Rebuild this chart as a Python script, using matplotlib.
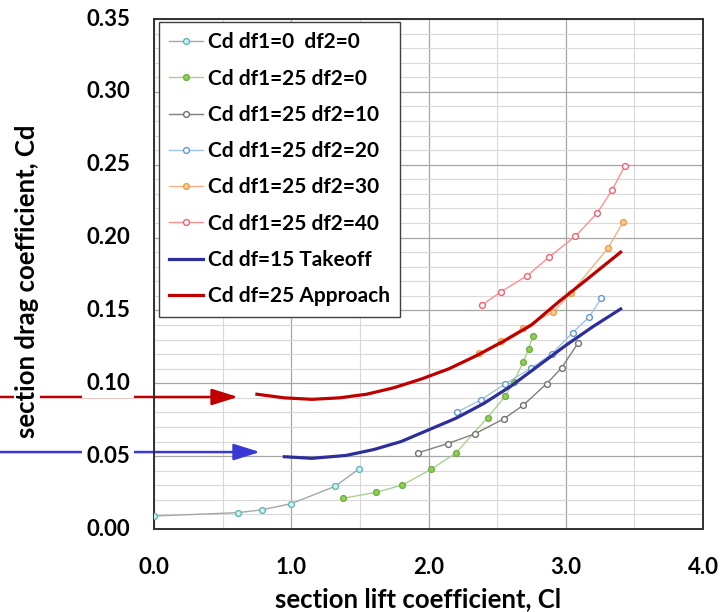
import matplotlib
matplotlib.use("Agg")
import matplotlib.pyplot as plt
from matplotlib.ticker import MultipleLocator
from matplotlib.transforms import offset_copy

plt.rcParams['font.family'] = ['Lato', 'DejaVu Sans']
plt.rcParams['font.weight'] = 'bold'

# ---- data ----
cl_00 = [0.00, 0.61, 0.79, 1.00, 1.32, 1.49]
cd_00 = [0.0089, 0.0112, 0.0132, 0.0174, 0.0293, 0.0410]

cl_25_0 = [1.38, 1.62, 1.81, 2.02, 2.20, 2.43, 2.56, 2.62, 2.69, 2.73, 2.76]
cd_25_0 = [0.0211, 0.0252, 0.0302, 0.0410, 0.0522, 0.0764, 0.0913, 0.1010, 0.1146, 0.1235, 0.1327]

cl_25_10 = [1.92, 2.14, 2.34, 2.55, 2.69, 2.86, 2.97, 3.09]
cd_25_10 = [0.0522, 0.0586, 0.0654, 0.0757, 0.0849, 0.0997, 0.1105, 0.1277]

cl_25_20 = [2.21, 2.38, 2.56, 2.75, 2.90, 3.05, 3.17, 3.26]
cd_25_20 = [0.0803, 0.0885, 0.0997, 0.1105, 0.1203, 0.1347, 0.1455, 0.1585]

cl_25_30 = [2.37, 2.53, 2.69, 2.91, 3.04, 3.31, 3.42]
cd_25_30 = [0.1206, 0.1288, 0.1380, 0.1490, 0.1622, 0.1930, 0.2110]

cl_25_40 = [2.39, 2.53, 2.72, 2.88, 3.07, 3.23, 3.34, 3.43]
cd_25_40 = [0.1537, 0.1629, 0.1739, 0.1867, 0.2009, 0.2169, 0.2329, 0.2491]

cl_takeoff = [0.95, 1.15, 1.40, 1.60, 1.80, 2.00, 2.20, 2.40, 2.60, 2.80, 3.00, 3.20, 3.40]
cd_takeoff = [0.0496, 0.0485, 0.0505, 0.0545, 0.0600, 0.0680, 0.0760, 0.0860, 0.0980, 0.1120, 0.1260, 0.1390, 0.1510]

cl_approach = [0.75, 0.95, 1.15, 1.35, 1.55, 1.75, 1.95, 2.15, 2.35, 2.55, 2.75, 2.95, 3.15, 3.40]
cd_approach = [0.0925, 0.0900, 0.0890, 0.0900, 0.0925, 0.0970, 0.1030, 0.1100, 0.1190, 0.1290, 0.1400, 0.1560, 0.1710, 0.1900]

labels = ["Cd df1=0  df2=0", "Cd df1=25 df2=0", "Cd df1=25 df2=10", "Cd df1=25 df2=20",
          "Cd df1=25 df2=30", "Cd df1=25 df2=40", "Cd df=15 Takeoff", "Cd df=25 Approach"]

yticks = [0.00, 0.05, 0.10, 0.15, 0.20, 0.25, 0.30, 0.35]
xticks = [0.0, 1.0, 2.0, 3.0, 4.0]

# arrow tips (Cl, Cd)
arrow_approach = (0.612, 0.0906)
arrow_takeoff = (0.772, 0.0528)

W, H = 725, 612
fig = plt.figure(figsize=(7.25, 6.12), dpi=100)
L, T, R, B = 154, 19, 703, 529
ax = fig.add_axes([L/W, 1-B/H, (R-L)/W, (B-T)/H])

ax.set_xlim(0, 4)
ax.set_ylim(0, 0.35)
ax.xaxis.set_major_locator(MultipleLocator(1.0))
ax.xaxis.set_minor_locator(MultipleLocator(0.5))
ax.yaxis.set_major_locator(MultipleLocator(0.05))
ax.yaxis.set_minor_locator(MultipleLocator(0.01))
ax.grid(which='major', color='#A6A6A6', lw=0.9)
ax.grid(which='minor', color='#D9D9D9', lw=0.8)
ax.set_axisbelow(True)
ax.tick_params(which='both', length=0, labelleft=False)
ax.set_xticks(xticks)
ax.set_xticklabels([f"{v:.1f}" for v in xticks], fontsize=16, fontweight='bold')
ax.tick_params(axis='x', pad=20)
for s in ax.spines.values():
    s.set_color('#303030')
    s.set_linewidth(1.4)

ms = 4.2
ax.plot(cl_00, cd_00, '-o', color='#A6A6A6', lw=1.0, ms=ms, mfc='#CFF3F3', mec='#5FB7B7', mew=1.0, label=labels[0], zorder=3)
ax.plot(cl_25_0, cd_25_0, '-o', color='#A9D18E', lw=1.0, ms=ms, mfc='#92D050', mec='#70AD47', mew=1.0, label=labels[1], zorder=3)
ax.plot(cl_25_10, cd_25_10, '-o', color='#7F7F7F', lw=1.0, ms=ms, mfc='white', mec='#707070', mew=1.0, label=labels[2], zorder=3)
ax.plot(cl_25_20, cd_25_20, '-o', color='#9DC3E6', lw=1.0, ms=ms, mfc='white', mec='#5B9BD5', mew=1.0, label=labels[3], zorder=3)
ax.plot(cl_25_30, cd_25_30, '-o', color='#F4B183', lw=1.0, ms=ms, mfc='#F8CB8F', mec='#ED9D45', mew=1.0, label=labels[4], zorder=3)
ax.plot(cl_25_40, cd_25_40, '-o', color='#FF8F8F', lw=1.0, ms=ms, mfc='white', mec='#F06070', mew=1.0, label=labels[5], zorder=3)
ax.plot(cl_takeoff, cd_takeoff, '-', color='#2E2E9A', lw=2.3, label=labels[6], zorder=4)
ax.plot(cl_approach, cd_approach, '-', color='#C00000', lw=2.3, label=labels[7], zorder=4)

leg = ax.legend(loc='upper left', bbox_to_anchor=(5/(R-L), 1-3/(B-T)), prop={'weight': 'bold', 'size': 15},
                frameon=True, fancybox=False, framealpha=1, edgecolor='#404040',
                handlelength=1.6, handletextpad=0.25, labelspacing=0.78, borderpad=0.5, borderaxespad=0)
leg.get_frame().set_linewidth(1.0)

# arrows from the figure's left edge into the plot
for (x, y), col in [(arrow_approach, '#C00000'), (arrow_takeoff, '#3838D6')]:
    ax.annotate('', xy=(x, y), xycoords='data', xytext=(0.0, y), textcoords=('figure fraction', 'data'),
                arrowprops=dict(arrowstyle='-|>,head_length=1.6,head_width=0.5', color=col, lw=1.8,
                                shrinkA=0, shrinkB=0),
                annotation_clip=False, zorder=2.5)

# y tick labels (text with white backing, so the arrows pass behind them)
tr = offset_copy(ax.get_yaxis_transform(), fig=fig, x=-24, y=0, units='dots')
for v in yticks:
    ax.text(0, v, f"{v:.2f}", transform=tr, ha='right', va='center', fontsize=16, fontweight='bold',
            bbox=dict(facecolor='white', edgecolor='none', pad=3), zorder=6, clip_on=False)

fig.text(27/W, 1-281/H, "section drag coefficient, Cd", rotation=90, ha='center', va='center',
         fontsize=18.5, fontweight='bold', bbox=dict(facecolor='white', edgecolor='none', pad=0.5), zorder=6)
fig.text(418/W, 1-599/H, "section lift coefficient, Cl", ha='center', va='center',
         fontsize=18.5, fontweight='bold')

fig.savefig("out.png", dpi=100, facecolor='white')
